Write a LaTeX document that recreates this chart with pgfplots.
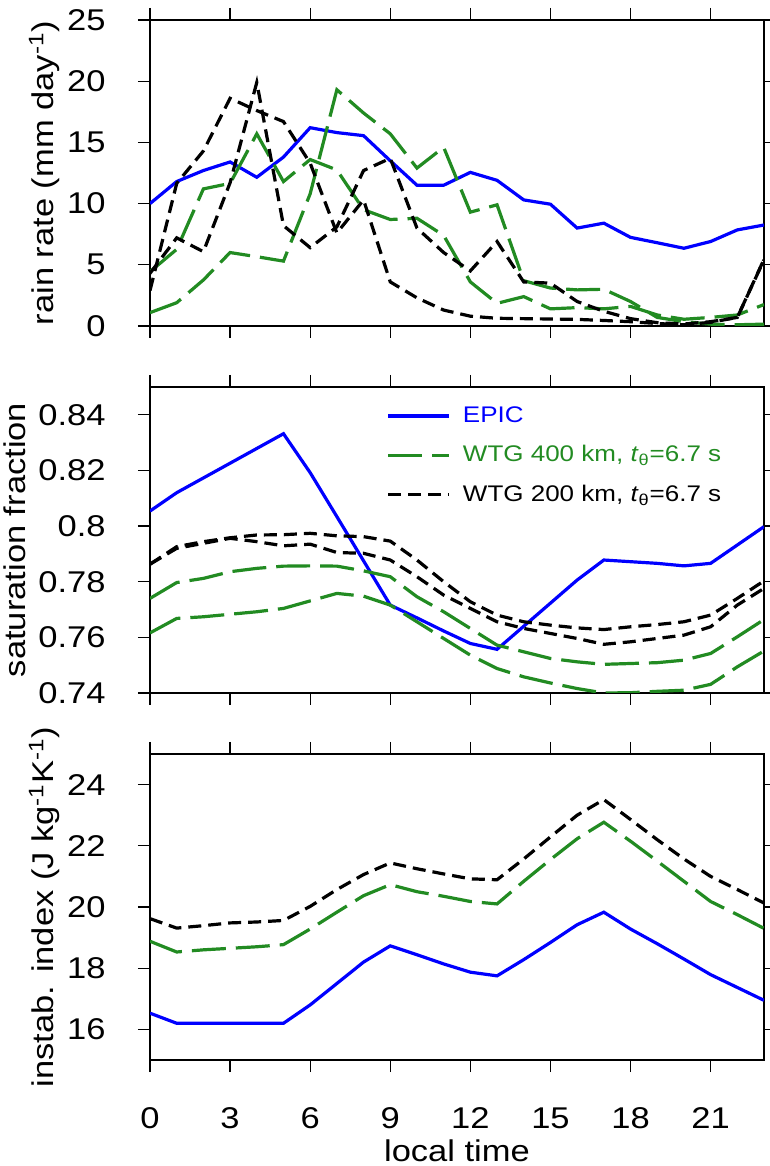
\documentclass[border=0pt]{standalone}
\usepackage{fontspec}
\setmainfont{Liberation Sans}[FakeStretch=1.15]
\usepackage{pgfplots}
\pgfplotsset{compat=1.18}
\definecolor{wgreen}{RGB}{34,139,34}
\pgfplotsset{
  panel/.style={
    scale only axis, width=307pt, height=153pt,
    xmin=0, xmax=23, xtick={0,3,...,21},
    tick align=outside, major tick length=6pt,
    axis line style={line width=0.6pt},
    every tick/.style={black, line width=0.6pt},
    tick label style={font=\fontsize{15}{18}\selectfont},
    label style={font=\fontsize{15}{18}\selectfont},
    yticklabel style={inner sep=1pt}, yticklabel shift=15pt,
    xticklabel style={inner sep=2pt}, xticklabel shift=15.5pt,
    ylabel style={inner sep=2.5pt, text depth=3pt},
    /pgf/number format/assume math mode=true,
    anchor=south west,
  },
  epic/.style={blue, line width=1.6pt},
  wfour/.style={wgreen, line width=1.6pt, dash pattern=on 17pt off 5pt},
  wtwo/.style={black, line width=1.6pt, dash pattern=on 6.5pt off 3.5pt},
}
\begin{document}
\begin{tikzpicture}[x=1pt,y=1pt]
\path[use as bounding box] (0,0) rectangle (385,583);
% ---------------- top panel ----------------
\begin{axis}[panel, at={(75pt,420pt)},
  ymin=0, ymax=25, ytick={0,5,10,15,20,25}, xticklabels={},
  ylabel={rain rate (mm day\textsuperscript{-1})}]
\addplot[epic] coordinates {(0,10.0)(1,11.8)(2,12.7)(3,13.4)(4,12.15)(5,13.8)(6,16.2)(7,15.8)(8,15.55)(9,13.5)(10,11.5)(11,11.5)(12,12.55)(13,11.9)(14,10.3)(15,9.95)(16,8.0)(17,8.4)(18,7.24)(19,6.8)(20,6.35)(21,6.9)(22,7.85)(23,8.25)};
\addplot[wfour] coordinates {(0,4.44)(1,6.26)(2,11.2)(3,11.65)(4,15.7)(5,11.8)(6,13.6)(7,12.75)(8,9.5)(9,8.7)(10,8.8)(11,7.4)(12,3.6)(13,1.85)(14,2.4)(15,1.4)(16,1.5)(17,1.4)(18,1.6)(19,0.9)(20,0.55)(21,0.7)(22,0.9)(23,1.75)};
\addplot[wfour] coordinates {(0,1.09)(1,1.9)(2,3.76)(3,6.0)(4,5.66)(5,5.3)(6,10.8)(7,19.3)(8,17.4)(9,15.7)(10,12.9)(11,14.6)(12,9.3)(13,9.9)(14,3.7)(15,3.1)(16,2.95)(17,3.0)(18,2.0)(19,0.7)(20,0.35)(21,0.15)(22,0.1)(23,0.15)};
\addplot[wtwo] coordinates {(0,2.9)(1,11.65)(2,14.3)(3,18.6)(4,17.6)(5,16.7)(6,13.3)(7,7.6)(8,10.3)(9,3.6)(10,2.3)(11,1.3)(12,0.8)(13,0.63)(14,0.6)(15,0.57)(16,0.54)(17,0.45)(18,0.35)(19,0.2)(20,0.1)(21,0.3)(22,0.7)(23,5.4)};
\addplot[wtwo] coordinates {(0,4.3)(1,7.2)(2,6.07)(3,11.7)(4,19.9)(5,8.2)(6,6.4)(7,8.1)(8,12.7)(9,13.7)(10,8.0)(11,6.0)(12,4.5)(13,6.9)(14,3.6)(15,3.5)(16,2.0)(17,1.2)(18,0.6)(19,0.27)(20,0.16)(21,0.35)(22,0.7)(23,5.45)};
\end{axis}
% ---------------- middle panel ----------------
\begin{axis}[panel, at={(75pt,236.5pt)},
  ymin=0.74, ymax=0.85, ytick={0.74,0.76,0.78,0.8,0.82,0.84}, xticklabels={},
  yticklabel style={/pgf/number format/fixed, /pgf/number format/precision=2},
  ylabel={saturation fraction},
  legend cell align=left,
  legend style={draw=none, fill=none, at={(0.385,0.95)}, anchor=north west,
    font=\fontsize{11.3}{13.5}\selectfont, row sep=6pt, inner sep=0pt,
    /tikz/every odd column/.append style={column sep=4pt}},
  legend image code/.code={\draw[#1] (0pt,0pt) -- (30.5pt,0pt);}]
\addplot[epic] coordinates {(0,0.8054)(1,0.812)(2,0.8173)(3,0.8226)(4,0.8279)(5,0.8332)(6,0.8192)(7,0.8034)(8,0.7875)(9,0.7716)(10,0.767)(11,0.7623)(12,0.7578)(13,0.7557)(14,0.764)(15,0.7723)(16,0.7806)(17,0.7878)(18,0.7872)(19,0.7866)(20,0.7857)(21,0.7866)(22,0.7932)(23,0.7998)};
\addlegendentry{\textcolor{blue}{EPIC}}
\addplot[wfour] coordinates {(0,0.774)(1,0.7797)(2,0.7812)(3,0.7836)(4,0.7848)(5,0.7856)(6,0.7857)(7,0.7856)(8,0.7839)(9,0.7818)(10,0.7746)(11,0.7692)(12,0.7632)(13,0.7572)(14,0.7548)(15,0.7524)(16,0.7512)(17,0.7503)(18,0.7506)(19,0.7509)(20,0.7518)(21,0.7542)(22,0.7602)(23,0.7664)};
\addlegendentry{\textcolor{wgreen}{WTG 400 km, \textit{t}\textsubscript{θ}=6.7 s}}
\addplot[wtwo] coordinates {(0,0.7863)(1,0.7926)(2,0.7944)(3,0.7958)(4,0.7968)(5,0.7969)(6,0.7974)(7,0.7965)(8,0.7962)(9,0.7946)(10,0.7878)(11,0.78)(12,0.7728)(13,0.768)(14,0.7656)(15,0.7644)(16,0.7634)(17,0.7628)(18,0.7638)(19,0.7646)(20,0.7656)(21,0.768)(22,0.774)(23,0.7803)};
\addlegendentry{WTG 200 km, \textit{t}\textsubscript{θ}=6.7 s}
\addplot[wfour, forget plot] coordinates {(0,0.7616)(1,0.7668)(2,0.7674)(3,0.7683)(4,0.7692)(5,0.7704)(6,0.7731)(7,0.7758)(8,0.7748)(9,0.7716)(10,0.7656)(11,0.7596)(12,0.7536)(13,0.7488)(14,0.7458)(15,0.7436)(16,0.7416)(17,0.7400)(18,0.7401)(19,0.7406)(20,0.741)(21,0.7431)(22,0.7494)(23,0.7551)};
\addplot[wtwo, forget plot] coordinates {(0,0.7863)(1,0.792)(2,0.7938)(3,0.7956)(4,0.7944)(5,0.7929)(6,0.7935)(7,0.7905)(8,0.7902)(9,0.7878)(10,0.7818)(11,0.7752)(12,0.7704)(13,0.7656)(14,0.7632)(15,0.7614)(16,0.7596)(17,0.7575)(18,0.7584)(19,0.7596)(20,0.7608)(21,0.7638)(22,0.7716)(23,0.7776)};
\end{axis}
% ---------------- bottom panel ----------------
\begin{axis}[panel, at={(75pt,53pt)},
  ymin=15, ymax=25, ytick={16,18,20,22,24},
  xlabel={local time},
  ylabel={instab. index (J kg\textsuperscript{-1}K\textsuperscript{-1})}]
\addplot[epic] coordinates {(0,16.53)(1,16.2)(2,16.2)(3,16.2)(4,16.2)(5,16.2)(6,16.8)(7,17.5)(8,18.2)(9,18.73)(10,18.44)(11,18.14)(12,17.87)(13,17.75)(14,18.28)(15,18.84)(16,19.42)(17,19.83)(18,19.28)(19,18.8)(20,18.3)(21,17.79)(22,17.37)(23,16.95)};
\addplot[wfour] coordinates {(0,18.88)(1,18.53)(2,18.6)(3,18.65)(4,18.7)(5,18.77)(6,19.28)(7,19.83)(8,20.37)(9,20.73)(10,20.5)(11,20.35)(12,20.18)(13,20.1)(14,20.84)(15,21.55)(16,22.23)(17,22.77)(18,22.15)(19,21.5)(20,20.84)(21,20.18)(22,19.75)(23,19.3)};
\addplot[wtwo] coordinates {(0,19.62)(1,19.31)(2,19.39)(3,19.48)(4,19.51)(5,19.56)(6,20.02)(7,20.57)(8,21.06)(9,21.44)(10,21.25)(11,21.08)(12,20.92)(13,20.89)(14,21.57)(15,22.29)(16,23.0)(17,23.51)(18,22.86)(19,22.2)(20,21.57)(21,21.0)(22,20.57)(23,20.13)};
\end{axis}
\end{tikzpicture}
\end{document}
